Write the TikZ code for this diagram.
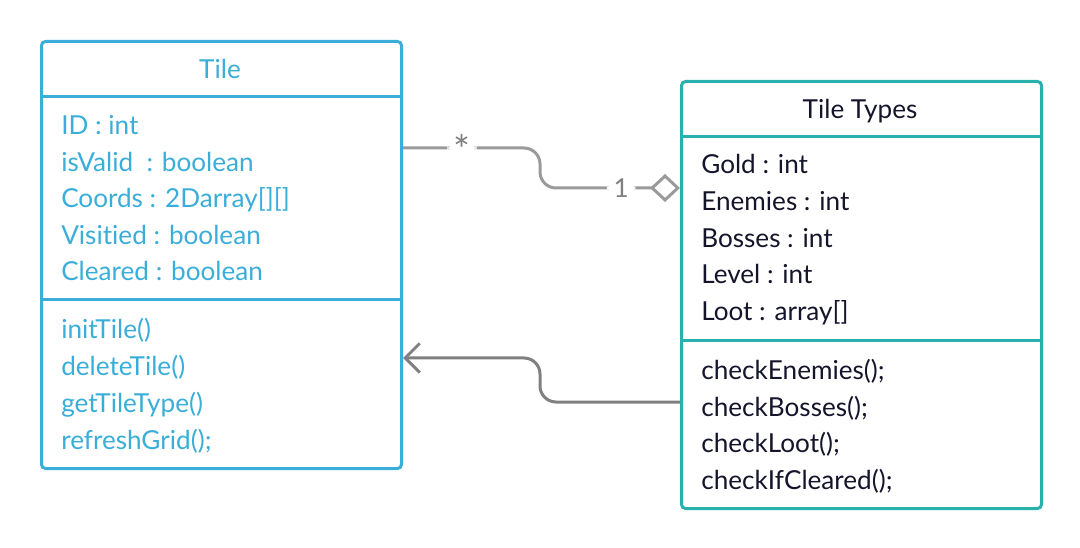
\documentclass[tikz,border=0pt]{standalone}
\usepackage{fontspec}
\setmainfont{Lato}[Ligatures=NoCommon]
\usetikzlibrary{arrows.meta}

\definecolor{tileblue}{HTML}{3AADD9}
\definecolor{typeteal}{HTML}{2AB0AD}
\definecolor{typetext}{HTML}{14142B}
\definecolor{aggray}{HTML}{9A9A9A}
\definecolor{depgray}{HTML}{808080}

\begin{document}
\begin{tikzpicture}[x=0.75pt, y=-0.75pt,
  box/.style={draw, line width=2.25pt, rounded corners=3pt, minimum width=270pt, minimum height=320.25pt, anchor=north west, inner sep=0pt},
  member/.style={anchor=base west, inner sep=0pt, font=\fontsize{19.6}{22}\selectfont},
  title/.style={anchor=base, inner sep=0pt, font=\fontsize{19.6}{22}\selectfont}]
\useasboundingbox (0,0) rectangle (1080,548);

% Tile class
\node [box, draw=tileblue] (tile) at (40,40) {};
\draw [tileblue, line width=2.25pt] (tile.west |- 0,97) -- (tile.east |- 0,97);
\draw [tileblue, line width=2.25pt] (tile.west |- 0,300) -- (tile.east |- 0,300);
\node [title, text=tileblue] (tiletitle) at (220,79) {Tile};

\node [member, text=tileblue] (id) at (61,135) {ID : int};
\node [member, text=tileblue] (valid) at (61,172) {isValid\ \ : boolean};
\node [member, text=tileblue] (coords) at (61,208) {Coords : 2Darray[][]};
\node [member, text=tileblue] (visit) at (61,245) {Visitied : boolean};
\node [member, text=tileblue] (clear) at (61,281) {Cleared : boolean};

\node [member, text=tileblue] (init) at (61,339) {initTile()};
\node [member, text=tileblue] (delete) at (61,376) {deleteTile()};
\node [member, text=tileblue] (gettype) at (61,412) {getTileType()};
\node [member, text=tileblue] (refresh) at (61,449) {refreshGrid();};

% Tile Types class
\node [box, draw=typeteal] (types) at (680,80) {};
\draw [typeteal, line width=2.25pt] (types.west |- 0,137) -- (types.east |- 0,137);
\draw [typeteal, line width=2.25pt] (types.west |- 0,341) -- (types.east |- 0,341);
\node [title, text=typetext] (typestitle) at (860,119) {Tile Types};

\node [member, text=typetext] (gold) at (701,174) {Gold : int};
\node [member, text=typetext] (enemies) at (701,211) {Enemies : int};
\node [member, text=typetext] (bosses) at (701,248) {Bosses : int};
\node [member, text=typetext] (level) at (701,284) {Level : int};
\node [member, text=typetext] (loot) at (701,321) {Loot : array[]};

\node [member, text=typetext] (chkenemies) at (701,379) {checkEnemies();};
\node [member, text=typetext] (chkbosses) at (701,416) {checkBosses();};
\node [member, text=typetext] (chkloot) at (701,452) {checkLoot();};
\node [member, text=typetext] (chkclear) at (701,489) {checkIfCleared();};

% connectors
\draw [aggray, line width=2.25pt, rounded corners=12pt, -{Diamond[open, length=22.5pt, width=21pt, line width=2.25pt]}]
  (tile.east |- 0,148) -- (540,148)
  node [pos=0.43, fill=white, minimum width=22pt, minimum height=14pt, inner sep=0pt, text=depgray, font=\fontsize{30}{30}\selectfont] (many) {\raisebox{-8pt}[9pt][0pt]{*}}
  -- (540,188) -- (types.west |- 0,188)
  node [pos=0.58, fill=white, inner xsep=5pt, inner ysep=1pt, text=depgray, font=\fontsize{19.6}{22}\selectfont] (one) {1};

\draw [depgray, line width=2.25pt, rounded corners=12pt, -{Straight Barb[length=11pt, width=22pt, line width=2.25pt]}]
  (types.west |- 0,402) -- (540,402) -- (540,358) -- (tile.east |- 0,358);

\end{tikzpicture}
\end{document}
